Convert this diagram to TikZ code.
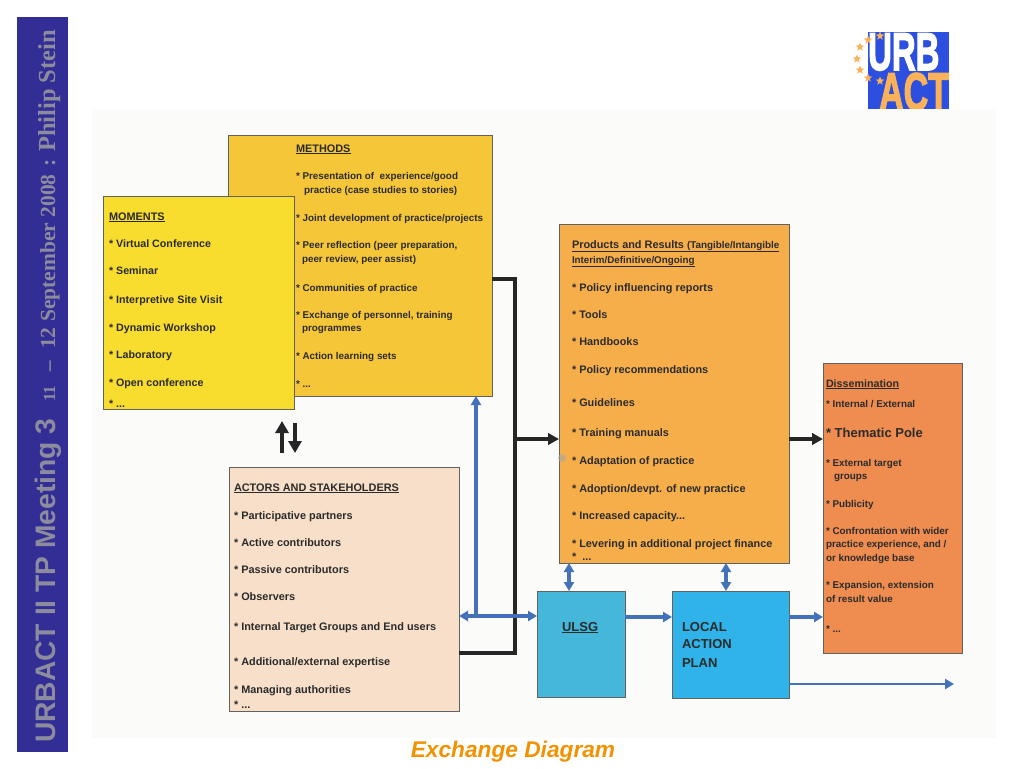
\documentclass[tikz,border=0pt]{standalone}
\usepackage{fontspec}
\usepackage{graphicx}
\setmainfont{Liberation Sans}
\newfontfamily\serifface{Liberation Serif}
\newfontfamily\logoface[BoldFeatures={FakeBold=3}]{Liberation Sans}
\usetikzlibrary{arrows.meta,shapes.geometric,calc}
\definecolor{navy}{HTML}{332E96}
\definecolor{sidegrey}{HTML}{8C8C9E}
\definecolor{panel}{HTML}{FBFBFA}
\definecolor{logoblue}{HTML}{2C4FE0}
\definecolor{logoorange}{HTML}{F9B25A}
\definecolor{methodsc}{HTML}{F6C639}
\definecolor{momentsc}{HTML}{F8DC2E}
\definecolor{actorsc}{HTML}{F7DFC9}
\definecolor{productsc}{HTML}{F6AE4B}
\definecolor{dissemc}{HTML}{EF8C50}
\definecolor{ulsgc}{HTML}{45B7DA}
\definecolor{lapc}{HTML}{2FB3E8}
\definecolor{edgeblue}{HTML}{4472B8}
\definecolor{inkc}{HTML}{2B2B2B}
\definecolor{titlec}{HTML}{F39200}
\tikzset{
  x=1pt,y=-1pt,
  boxnode/.style={draw=black!62,line width=.9pt,anchor=north west,inner sep=0pt,outer sep=0pt},
  txt/.style={anchor=base west,inner sep=0pt,outer sep=0pt,text=inkc,font=\fontsize{10.9}{12}\selectfont\bfseries},
  txtme/.style={txt,font=\fontsize{9.85}{12}\selectfont\bfseries},
  txtmo/.style={txt,font=\fontsize{10.7}{12}\selectfont\bfseries},
  txtdi/.style={txt,font=\fontsize{9.85}{12}\selectfont\bfseries},
  head/.style={txt,font=\fontsize{10.9}{13}\selectfont\bfseries},
  big/.style={txt,font=\fontsize{13}{15}\selectfont\bfseries},
  sidesans/.style={anchor=base west,rotate=90,inner sep=0pt,text=sidegrey,font=\fontsize{28.2}{30}\selectfont\bfseries},
  sideserif/.style={anchor=base west,rotate=90,inner sep=0pt,text=sidegrey,font=\serifface\fontsize{21.5}{24}\selectfont\bfseries},
  blackline/.style={draw=black!85,line width=3.6pt},
  blackarrow/.style={blackline,-{Triangle[length=11pt,width=11.5pt]}},
  updown/.style={draw=black!85,line width=4pt,-{Triangle[length=12pt,width=13pt]}},
  blueline/.style={draw=edgeblue,line width=3.2pt},
  bluearrow/.style={blueline,-{Triangle[length=9pt,width=10pt]}},
  bluedouble/.style={blueline,{Triangle[length=9pt,width=10pt]}-{Triangle[length=9pt,width=10pt]}},
  starnode/.style={star,star points=5,star point ratio=2.3,fill=logoorange,inner sep=0pt,minimum size=9pt}
}
\begin{document}
\begin{tikzpicture}
\useasboundingbox (0,0) rectangle (1024,768);
\fill[white] (0,0) rectangle (1024,768);
% sidebar
\node[fill=navy,anchor=north west,inner sep=0pt,outer sep=0pt,minimum width=51pt,minimum height=735pt] (side) at (17,17) {};
\node[sidesans] (side1) at (55,743) {URBACT II TP Meeting 3};
\node[sideserif,font=\serifface\fontsize{17}{20}\selectfont\bfseries] (side2) at (55,402) {11};
\node[sideserif,font=\serifface\fontsize{21}{24}\selectfont\bfseries] (side3) at (55,372) {–};
\node[sideserif] (side4) at (55,349) {12 September 2008};
\node[sideserif] (side5) at (55,167) {:};
\node[sideserif,font=\serifface\fontsize{24.5}{26}\selectfont\bfseries] (side6) at (55,152) {Philip Stein};
% logo
\node[fill=logoblue,anchor=north west,inner sep=0pt,outer sep=0pt,minimum width=81pt,minimum height=77pt] (logo) at (868,32) {};
\node[anchor=base west,inner sep=0pt,text=white] (urb) at (868,70) {\scalebox{.62}[1]{\logoface\fontsize{53}{53}\selectfont\bfseries URB}};
\node[anchor=base west,inner sep=0pt,text=logoorange] (act) at (879,110) {\scalebox{.64}[1]{\logoface\fontsize{53}{53}\selectfont\bfseries ACT}};
\node[starnode] (s1) at (880,36) {};
\node[starnode] (s2) at (868,40) {};
\node[starnode] (s3) at (860,47) {};
\node[starnode] (s4) at (857,59) {};
\node[starnode] (s5) at (860,70) {};
\node[starnode] (s6) at (868,78) {};
\node[starnode] (s7) at (880,81) {};
% scanned panel
\node[fill=panel,anchor=north west,inner sep=0pt,outer sep=0pt,minimum width=904pt,minimum height=629pt] (panelbg) at (92,109) {};
% boxes
\node[boxnode,fill=methodsc,minimum width=264pt,minimum height=261pt] (methods) at (228,135) {};
\node[boxnode,fill=momentsc,minimum width=191pt,minimum height=213pt] (moments) at (103,196) {};
\node[boxnode,fill=actorsc,minimum width=230pt,minimum height=244pt] (actors) at (229,467) {};
\node[boxnode,fill=productsc,minimum width=230pt,minimum height=339pt] (products) at (559,224) {};
\node[boxnode,fill=dissemc,minimum width=139pt,minimum height=290pt] (dissem) at (823,363) {};
\node[boxnode,fill=ulsgc,minimum width=88pt,minimum height=106pt] (ulsg) at (537,591) {};
\node[boxnode,fill=lapc,minimum width=117pt,minimum height=107pt] (lap) at (672,591) {};
% connector points
\coordinate (j1) at (515,279);
\coordinate (j2) at (515,653);
\coordinate (j3) at (515,439);
\coordinate (b1) at (476,616);
\coordinate (upA) at (282,453);
\coordinate (upB) at (282,421);
\coordinate (dnA) at (295,423);
\coordinate (dnB) at (295,453);
\coordinate (far) at (954,684);
% black connectors
\draw[blackline,line join=miter] (methods.east |- j1) -- (j1) -- (j2) -- (actors.east |- j2);
\draw[blackarrow] (j3) -- (products.west |- j3);
\draw[blackarrow] (products.east |- j3) -- (dissem.west |- j3);
\draw[updown] (upA) -- (upB);
\draw[updown] (dnA) -- (dnB);
% blue connectors
\draw[bluedouble] (actors.east |- b1) -- (ulsg.west |- b1);
\draw[bluearrow] (b1) -- (b1 |- methods.south);
\draw[bluearrow] (ulsg.east |- 0,617) -- (lap.west |- 0,617);
\draw[bluearrow] (lap.east |- 0,617) -- (dissem.west |- 0,617);
\draw[bluearrow,line width=2.6pt] (lap.east |- far) -- (far);
\draw[bluedouble] (569,591) -- (569,563);
\draw[bluedouble] (726,591) -- (726,563);
% methods text
\node[head] (me0) at (296,152) {\underline{METHODS}};
\node[txtme] (me1) at (296,179) {* Presentation of\ \ experience/good};
\node[txtme] (me2) at (304,193) {practice (case studies to stories)};
\node[txtme] (me3) at (296,221) {* Joint development of practice/projects};
\node[txtme] (me4) at (296,248) {* Peer reflection (peer preparation,};
\node[txtme] (me5) at (302,262) {peer review, peer assist)};
\node[txtme] (me6) at (296,291) {* Communities of practice};
\node[txtme] (me7) at (296,318) {* Exchange of personnel, training};
\node[txtme] (me8) at (302,331) {programmes};
\node[txtme] (me9) at (296,359) {* Action learning sets};
\node[txtme] (me10) at (296,387) {* ...};
% moments text
\node[head] (mo0) at (109,220) {\underline{MOMENTS}};
\node[txtmo] (mo1) at (109,247) {* Virtual Conference};
\node[txtmo] (mo2) at (109,274) {* Seminar};
\node[txtmo] (mo3) at (109,303) {* Interpretive Site Visit};
\node[txtmo] (mo4) at (109,331) {* Dynamic Workshop};
\node[txtmo] (mo5) at (109,358) {* Laboratory};
\node[txtmo] (mo6) at (109,386) {* Open conference};
\node[txtmo] (mo7) at (109,407) {* ...};
% actors text
\node[head] (ac0) at (234,491) {\underline{ACTORS AND STAKEHOLDERS}};
\node[txt] (ac1) at (234,519) {* Participative partners};
\node[txt] (ac2) at (234,546) {* Active contributors};
\node[txt] (ac3) at (234,573) {* Passive contributors};
\node[txt] (ac4) at (234,600) {* Observers};
\node[txt] (ac5) at (234,630) {* Internal Target Groups and End users};
\node[txt] (ac6) at (234,665) {* Additional/external expertise};
\node[txt] (ac7) at (234,693) {* Managing authorities};
\node[txt] (ac8) at (234,708) {* ...};
% products text
\node[head] (pr0) at (572,248) {\underline{Products and Results {\fontsize{9.85}{11}\selectfont (Tangible/Intangible}}};
\node[txt,font=\fontsize{9.8}{11}\selectfont\bfseries] (pr00) at (572,263) {\underline{Interim/Definitive/Ongoing}};
\node[txt] (pr1) at (572,291) {* Policy influencing reports};
\node[txt] (pr2) at (572,318) {* Tools};
\node[txt] (pr3) at (572,345) {* Handbooks};
\node[txt] (pr4) at (572,373) {* Policy recommendations};
\node[txt] (pr5) at (572,406) {* Guidelines};
\node[txt] (pr6) at (572,436) {* Training manuals};
\node[txt] (pr7) at (572,464) {* Adaptation of practice};
\node[txt] (pr8) at (572,492) {* Adoption/devpt. of new practice};
\node[txt] (pr9) at (572,519) {* Increased capacity...};
\node[txt] (pr10) at (572,547) {* Levering in additional project finance};
\node[txt] (pr11) at (572,560) {*\ \ ...};
\fill[black!35,opacity=.6] (562,458) circle (4pt);
% dissemination text
\node[txt,font=\fontsize{10.7}{13}\selectfont\bfseries] (di0) at (826,387) {\underline{Dissemination}};
\node[txtdi] (di1) at (826,407) {* Internal / External};
\node[big] (di2) at (826,437) {* Thematic Pole};
\node[txtdi] (di3) at (826,466) {* External target};
\node[txtdi] (di4) at (834,479) {groups};
\node[txtdi] (di5) at (826,507) {* Publicity};
\node[txtdi] (di6) at (826,534) {* Confrontation with wider};
\node[txtdi] (di7) at (826,547) {practice experience, and /};
\node[txtdi] (di8) at (826,561) {or knowledge base};
\node[txtdi] (di9) at (826,588) {* Expansion, extension};
\node[txtdi] (di10) at (826,602) {of result value};
\node[txtdi] (di11) at (826,632) {* ...};
% blue boxes text
\node[big] (ul0) at (562,631) {\underline{ULSG}};
\node[big] (la0) at (682,631) {LOCAL};
\node[big] (la1) at (682,648) {ACTION};
\node[big] (la2) at (682,667) {PLAN};
% title
\node[anchor=base,inner sep=0pt,text=titlec,font=\fontsize{22.7}{24}\selectfont\bfseries\itshape] (title) at (513,757) {Exchange Diagram};
\end{tikzpicture}
\end{document}
